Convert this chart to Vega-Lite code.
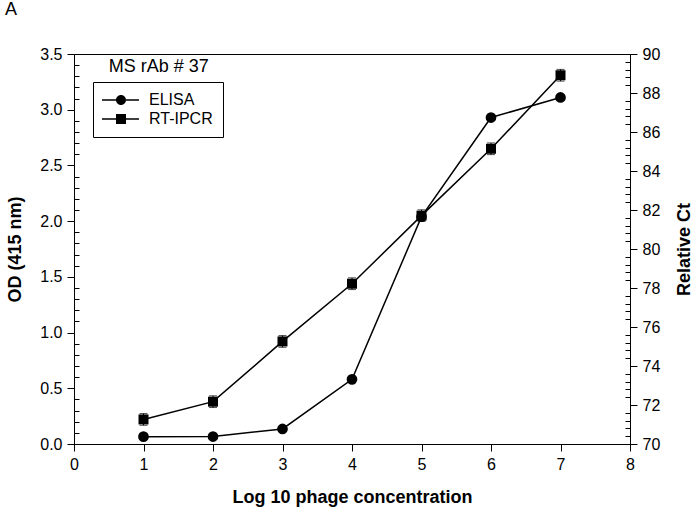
{
  "$schema": "https://vega.github.io/schema/vega-lite/v6.json",
  "width": 556,
  "height": 390,
  "autosize": {"type": "none"},
  "padding": {"left": 74, "top": 54, "right": 63, "bottom": 66},
  "background": "white",
  "title": {"text": "A", "anchor": "start", "frame": "group", "dx": -69, "offset": 27, "fontSize": 18, "fontWeight": "normal", "font": "Liberation Sans", "color": "black"},
  "config": {
    "font": "Liberation Sans",
    "view": {"stroke": "black", "strokeWidth": 1},
    "axis": {"grid": false, "domainColor": "black", "tickColor": "black", "labelColor": "black", "titleColor": "black", "labelFont": "Liberation Sans", "titleFont": "Liberation Sans", "labelFontSize": 16, "titleFontSize": 18, "titleFontWeight": "bold", "tickWidth": 1, "domainWidth": 1, "labelFlush": false, "labelOverlap": false}
  },
  "data": {"values": [
    {"conc": 1, "series": "ELISA", "value": 0.066},
    {"conc": 2, "series": "ELISA", "value": 0.067},
    {"conc": 3, "series": "ELISA", "value": 0.135},
    {"conc": 4, "series": "ELISA", "value": 0.58},
    {"conc": 5, "series": "ELISA", "value": 2.04},
    {"conc": 6, "series": "ELISA", "value": 2.93},
    {"conc": 7, "series": "ELISA", "value": 3.11},
    {"conc": 1, "series": "RT-IPCR", "value": 71.26, "err": 0.3},
    {"conc": 2, "series": "RT-IPCR", "value": 72.17, "err": 0.3},
    {"conc": 3, "series": "RT-IPCR", "value": 75.26, "err": 0.3},
    {"conc": 4, "series": "RT-IPCR", "value": 78.22, "err": 0.3},
    {"conc": 5, "series": "RT-IPCR", "value": 81.71, "err": 0.3},
    {"conc": 6, "series": "RT-IPCR", "value": 85.14, "err": 0.3},
    {"conc": 7, "series": "RT-IPCR", "value": 88.91, "err": 0.3}
  ]},
  "encoding": {
    "x": {"field": "conc", "type": "quantitative", "scale": {"domain": [0, 8], "nice": false},
      "axis": {"title": "Log 10 phage concentration", "values": [0, 1, 2, 3, 4, 5, 6, 7, 8], "tickSize": 7, "labelPadding": 5, "titlePadding": 16}}
  },
  "layer": [
    {
      "encoding": {
        "y": {"field": "value", "type": "quantitative", "scale": {"domain": [0, 3.5], "nice": false},
          "axis": {"title": "OD (415 nm)", "orient": "left",
            "values": [0, 0.1, 0.2, 0.3, 0.4, 0.5, 0.6, 0.7, 0.8, 0.9, 1, 1.1, 1.2, 1.3, 1.4, 1.5, 1.6, 1.7, 1.8, 1.9, 2, 2.1, 2.2, 2.3, 2.4, 2.5, 2.6, 2.7, 2.8, 2.9, 3, 3.1, 3.2, 3.3, 3.4, 3.5],
            "labelExpr": "abs(datum.value*2 - round(datum.value*2)) < 0.001 ? format(datum.value, '.1f') : ''",
            "tickSize": {"condition": {"test": "abs(datum.value*2 - round(datum.value*2)) < 0.001", "value": 7}, "value": -5},
            "labelPadding": 5, "titlePadding": 15}}
      },
      "layer": [
        {"transform": [{"filter": "datum.series == 'ELISA'"}],
          "mark": {"type": "line", "color": "black", "strokeWidth": 1.5}},
        {"transform": [{"filter": "datum.series == 'ELISA'"}],
          "mark": {"type": "point", "shape": "circle", "filled": true, "color": "black", "size": 115, "opacity": 1}},
        {"transform": [{"filter": "datum.conc > 100"}],
          "mark": {"type": "point", "filled": true, "color": "black", "opacity": 1},
          "encoding": {"shape": {"field": "series", "type": "nominal",
            "scale": {"domain": ["ELISA", "RT-IPCR"], "range": ["M-1.8,-0.15H1V0.15H-1.8Z M3,-0.15H5.6V0.15H3Z M3,0A1,1 0 1,1 1,0A1,1 0 1,1 3,0Z", "M-1.8,-0.15H1V0.15H-1.8Z M3,-0.15H5.6V0.15H3Z M1,-1H3V1H1Z"]},
            "legend": {"orient": "none", "legendX": 19, "legendY": 28, "title": null,
              "strokeColor": "black", "fillColor": "white", "padding": 10, "symbolSize": 100,
              "labelOffset": 30, "labelFontSize": 16, "labelFont": "Liberation Sans", "labelColor": "black",
              "rowPadding": 3, "symbolFillColor": "black", "symbolOpacity": 1}}}},
        {"transform": [{"filter": "datum.series == 'ELISA' && datum.conc == 1"}],
          "mark": {"type": "text", "text": "MS rAb # 37", "fontSize": 18, "font": "Liberation Sans", "color": "black", "align": "center", "baseline": "middle"},
          "encoding": {"x": {"datum": 1.22}, "y": {"datum": 3.38}}}
      ]
    },
    {
      "transform": [{"filter": "datum.series == 'RT-IPCR'"}],
      "encoding": {
        "y": {"field": "value", "type": "quantitative", "scale": {"domain": [70, 90], "nice": false},
          "axis": {"title": "Relative Ct", "orient": "right", "titleAngle": 270, "titleBaseline": "top",
            "values": [70, 70.4, 70.8, 71.2, 71.6, 72, 72.4, 72.8, 73.2, 73.6, 74, 74.4, 74.8, 75.2, 75.6, 76, 76.4, 76.8, 77.2, 77.6, 78, 78.4, 78.8, 79.2, 79.6, 80, 80.4, 80.8, 81.2, 81.6, 82, 82.4, 82.8, 83.2, 83.6, 84, 84.4, 84.8, 85.2, 85.6, 86, 86.4, 86.8, 87.2, 87.6, 88, 88.4, 88.8, 89.2, 89.6, 90],
            "labelExpr": "abs(datum.value/2 - round(datum.value/2)) < 0.001 ? format(datum.value, '.0f') : ''",
            "tickSize": {"condition": {"test": "abs(datum.value/2 - round(datum.value/2)) < 0.001", "value": 7}, "value": -5},
            "labelPadding": 5, "titlePadding": 16}}
      },
      "layer": [
        {"mark": {"type": "errorbar", "color": "black", "ticks": {"size": 8, "color": "black"}},
          "encoding": {"yError": {"field": "err"}}},
        {"mark": {"type": "line", "color": "black", "strokeWidth": 1.5}},
        {"mark": {"type": "point", "shape": "square", "filled": true, "color": "black", "size": 100, "opacity": 1}}
      ]
    }
  ],
  "resolve": {"scale": {"y": "independent"}}
}
